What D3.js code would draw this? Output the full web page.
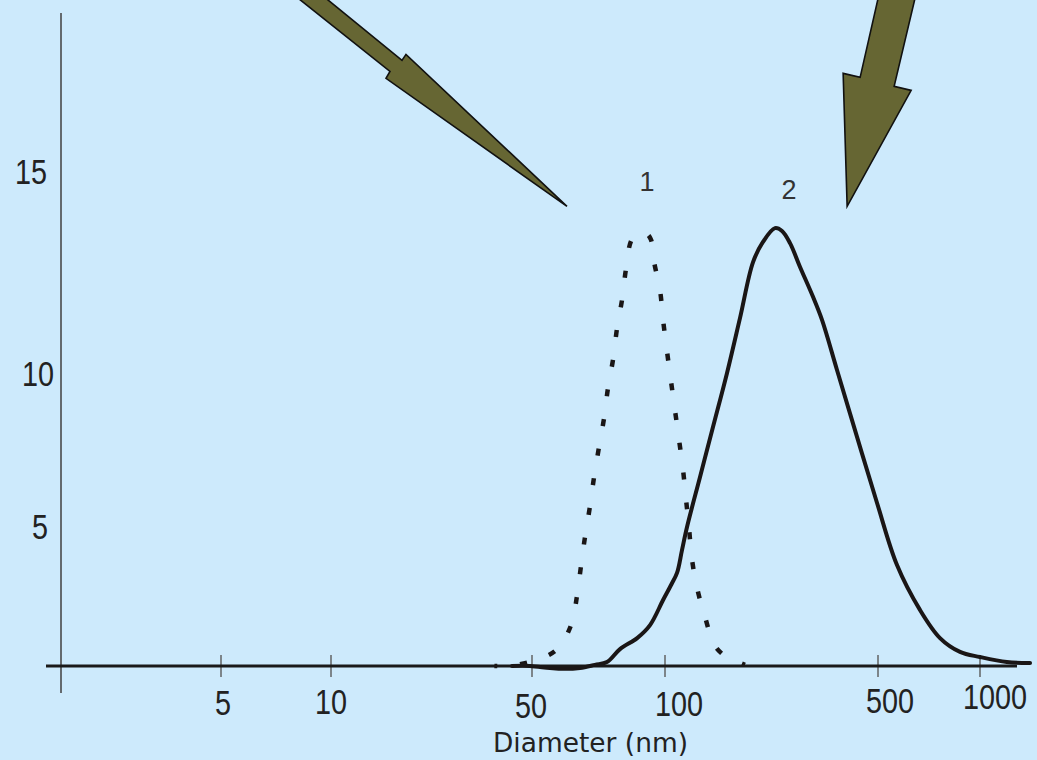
<!DOCTYPE html>
<html>
<head>
<meta charset="utf-8">
<script src="https://cdn.jsdelivr.net/npm/d3@7"></script>
<style>
  html, body { margin: 0; padding: 0; background: #cdeafc; }
  svg { display: block; }
</style>
</head>
<body>
<svg id="chart" width="1037" height="760"></svg>
<script>
// Size distributions of two particle samples: intensity (%) against diameter (nm, log axis)
const diameterTicks = [5, 10, 50, 100, 500, 1000];
const intensityTicks = [5, 10, 15];

// Sample 1 (dotted curve)
const sample1Diameter = [37.0, 44.3, 56.4, 61.3, 63.2, 64.5, 65.9, 67.6, 69.1, 70.9, 72.8, 74.3, 76.3, 77.9, 80.0, 81.6, 84.2, 88.3, 91.0, 93.0, 94.5, 97.5, 99.0, 101.5, 104.6, 107.8, 111.2, 114.6, 117.2, 119.9, 122.6, 127.4, 135.3, 145.9, 160.0, 176.3, 183.0];
const sample1Intensity = [0.0, 0.04, 0.53, 1.45, 2.48, 3.51, 4.57, 5.59, 6.57, 7.55, 8.50, 9.48, 10.32, 11.09, 11.81, 12.55, 13.29, 13.47, 13.42, 13.27, 12.72, 12.00, 11.29, 10.52, 9.71, 8.76, 7.78, 6.80, 5.85, 4.89, 3.79, 2.77, 1.74, 0.71, 0.30, 0.11, 0.04];

// Sample 2 (solid curve)
const sample2Diameter = [42.6, 49.2, 54.9, 58.8, 64.2, 69.4, 73.9, 79.1, 86.5, 92.5, 99.0, 105.0, 109.5, 113.7, 118.1, 130.3, 143.7, 159.8, 176.3, 194.5, 209.7, 229.6, 242.1, 257.2, 277.4, 306.0, 327.5, 366.8, 426.7, 496.4, 568.9, 665.0, 762.1, 873.0, 1000, 1200, 1405];
const sample2Intensity = [0.0, 0.0, -0.07, -0.10, -0.07, 0.04, 0.14, 0.60, 0.99, 1.45, 2.34, 2.90, 3.30, 4.11, 4.93, 6.57, 8.20, 9.97, 11.34, 12.72, 13.22, 13.56, 13.49, 13.19, 12.60, 11.86, 11.29, 10.05, 7.88, 5.72, 3.58, 1.99, 0.99, 0.50, 0.32, 0.14, 0.11];

const seriesNames = ["1", "2"];
// Where each annotation arrow points: [diameter, intensity]
const arrowTipDiameter = [60, 396];
const arrowTipIntensity = [14.1, 14.1];

// ---- layout ----
const svg = d3.select("#chart");
const W = 1037, H = 760;
svg.append("rect").attr("width", W).attr("height", H).attr("fill", "#cdeafc");

// hand-spaced log axis and intensity axis
const x = d3.scaleLog().domain(diameterTicks).range([221, 331, 532, 665, 878, 980]);
const y = d3.scaleLinear().domain([0, 5, 10, 15]).range([666, 525, 372, 170]);

const axisLeftX = 61;
const axisY = y(0);

// y axis line
svg.append("line")
  .attr("x1", axisLeftX).attr("x2", axisLeftX)
  .attr("y1", 13).attr("y2", 693)
  .attr("stroke", "#4a4a4a").attr("stroke-width", 1.6);

// x axis ticks (cross the axis line)
svg.append("g").selectAll("line")
  .data(diameterTicks)
  .join("line")
  .attr("x1", d => x(d)).attr("x2", d => x(d))
  .attr("y1", axisY - 11).attr("y2", axisY + 11)
  .attr("stroke", "#5a5a5a").attr("stroke-width", 1.4);

// x axis line
svg.append("line")
  .attr("x1", 46).attr("x2", 1017)
  .attr("y1", axisY).attr("y2", axisY)
  .attr("stroke", "#1a1a1a").attr("stroke-width", 3);

// numeric labels: tall narrow figures (horizontally condensed)
const digitFont = "'Liberation Sans', Arial, sans-serif";
function numberLabel(sel, txt, px, py, anchor) {
  sel.append("text")
    .attr("transform", `translate(${px},${py}) scale(0.8,1)`)
    .attr("text-anchor", anchor)
    .attr("font-family", digitFont)
    .attr("font-size", 36)
    .attr("fill", "#222")
    .text(txt);
}

const xLabelShift = {5: [2, 1], 10: [0, 0], 50: [-1, 4], 100: [14, 2], 500: [12, -1], 1000: [15, -5]};
const xLabels = svg.append("g");
diameterTicks.forEach(v => {
  const s = xLabelShift[v] || [0, 0];
  numberLabel(xLabels, String(v), x(v) + s[0], 714 + s[1], "middle");
});

const yLabelShift = {15: -1, 10: 6, 5: 0};
const yLabels = svg.append("g");
intensityTicks.forEach(v => {
  numberLabel(yLabels, String(v), 48 + (yLabelShift[v] || 0), y(v) + 14, "end");
});

// axis title
svg.append("text")
  .attr("x", 590.5).attr("y", 752)
  .attr("text-anchor", "middle")
  .attr("font-family", "'DejaVu Sans', Verdana, sans-serif")
  .attr("font-size", 26)
  .attr("fill", "#222")
  .attr("textLength", 195)
  .attr("lengthAdjust", "spacingAndGlyphs")
  .text("Diameter (nm)");

// ---- curves ----
const line = d3.line()
  .x(d => x(d[0]))
  .y(d => y(d[1]))
  .curve(d3.curveCatmullRom.alpha(0.5));

const s1 = sample1Diameter.map((d, i) => [d, sample1Intensity[i]]);
const s2 = sample2Diameter.map((d, i) => [d, sample2Intensity[i]]);

svg.append("path")
  .attr("d", line(s2))
  .attr("fill", "none")
  .attr("stroke", "#1a1616")
  .attr("stroke-width", 4)
  .attr("stroke-linejoin", "round")
  .attr("stroke-linecap", "round");

svg.append("path")
  .attr("d", line(s1))
  .attr("fill", "none")
  .attr("stroke", "#1a1616")
  .attr("stroke-width", 4.5)
  .attr("stroke-dasharray", "7,23")
  .attr("stroke-dashoffset", 4)
  .attr("stroke-linecap", "butt");

// series names above their peaks
const peaks = [s1, s2].map(s => s.reduce((a, b) => (b[1] > a[1] ? b : a)));
const nameShift = [[6, -41], [14, -29]];
seriesNames.forEach((name, i) => {
  svg.append("text")
    .attr("x", x(peaks[i][0]) + nameShift[i][0])
    .attr("y", y(peaks[i][1]) + nameShift[i][1])
    .attr("text-anchor", "middle")
    .attr("font-family", "'Liberation Sans', Arial, sans-serif")
    .attr("font-size", 27)
    .attr("fill", "#333")
    .text(name);
});

// ---- annotation arrows (shapes given relative to the tip) ----
const arrowShapes = [
  [[-280, -217], [-252, -217], [-165, -146], [-161, -152], [0, 0], [-181, -128], [-177, -135]],
  [[33, -217], [13, -129], [-4, -133], [0, 0], [64, -116], [47, -120], [70, -217]]
];
arrowShapes.forEach((shape, i) => {
  const tx = x(arrowTipDiameter[i]);
  const ty = y(arrowTipIntensity[i]);
  svg.append("polygon")
    .attr("points", shape.map(p => [tx + p[0], ty + p[1]].join(",")).join(" "))
    .attr("fill", "#666633")
    .attr("stroke", "#111")
    .attr("stroke-width", 1.6)
    .attr("stroke-linejoin", "miter");
});
</script>
</body>
</html>
